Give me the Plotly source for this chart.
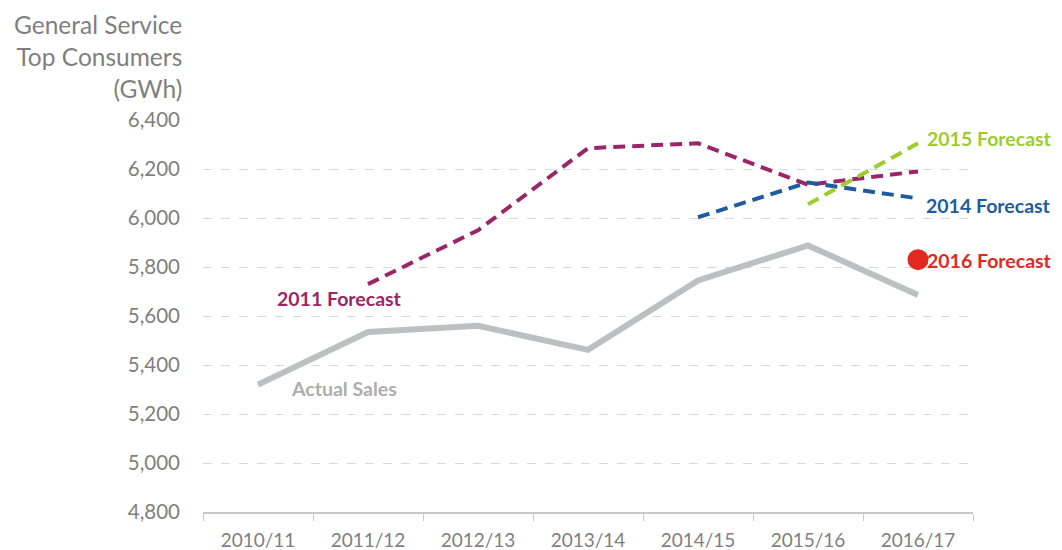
import plotly.graph_objects as go

years = ["2010/11", "2011/12", "2012/13", "2013/14", "2014/15", "2015/16", "2016/17"]
actual_sales = [5320, 5535, 5560, 5462, 5745, 5888, 5686]
forecast_2011 = [None, 5730, 5950, 6285, 6305, 6136, 6190]
forecast_2014 = [None, None, None, None, 6003, 6145, 6080]
forecast_2015 = [None, None, None, None, None, 6056, 6305]
forecast_2016 = [None, None, None, None, None, None, 5830]
y_ticks = [4800, 5000, 5200, 5400, 5600, 5800, 6000, 6200, 6400]

FONT = "Lato"
GREY_TXT = "#7f7f7f"
C_ACT = "#bcc0c0"
C_11 = "#9b2667"
C_14 = "#1f5c9f"
C_15 = "#9ccd2c"
C_16 = "#e2281f"

fig = go.Figure()
fig.add_trace(go.Scatter(x=years, y=actual_sales, mode="lines",
                         line=dict(color=C_ACT, width=6), hoverinfo="skip"))
fig.add_trace(go.Scatter(x=years, y=forecast_2011, mode="lines",
                         line=dict(color=C_11, width=4, dash="12px,7px")))
fig.add_trace(go.Scatter(x=years, y=forecast_2014, mode="lines",
                         line=dict(color=C_14, width=4, dash="12px,7px")))
fig.add_trace(go.Scatter(x=years, y=forecast_2015, mode="lines",
                         line=dict(color=C_15, width=4, dash="12px,7px")))
fig.add_trace(go.Scatter(x=years, y=forecast_2016, mode="markers",
                         marker=dict(color=C_16, size=21)))

ann_font = dict(family=FONT, size=19.5)
anns = [
    dict(x=years[6], y=forecast_2015[6], text="<b>2015 Forecast</b>", xanchor="left",
         yanchor="middle", xshift=7, yshift=5, font=dict(ann_font, color=C_15)),
    dict(x=years[6], y=forecast_2014[6], text="<b>2014 Forecast</b>", xanchor="left",
         yanchor="middle", xshift=6, yshift=-7, font=dict(ann_font, color=C_14)),
    dict(x=years[6], y=forecast_2016[6], text="<b>2016 Forecast</b>", xanchor="left",
         yanchor="middle", xshift=7, yshift=-1, font=dict(ann_font, color=C_16)),
    dict(x=years[1], y=forecast_2011[1], text="<b>2011 Forecast</b>", xanchor="right",
         yanchor="middle", xshift=36, yshift=-14, font=dict(ann_font, color=C_11)),
    dict(x=years[0], y=actual_sales[0], text="<b>Actual Sales</b>", xanchor="left",
         yanchor="middle", xshift=31, yshift=-4, font=dict(ann_font, color="#adadad")),
    dict(xref="paper", yref="paper", x=-0.0247, y=1.163,
         text="General Service<br>Top Consumers<br>(GWh)", align="right",
         xanchor="right", yanchor="middle",
         font=dict(family=FONT, size=24.5, color=GREY_TXT)),
]
for a in anns:
    a["showarrow"] = False
    fig.add_annotation(**a)

fig.update_layout(
    width=1054, height=542,
    margin=dict(l=195, r=89, t=112, b=38),
    paper_bgcolor="white", plot_bgcolor="white",
    showlegend=False,
    font=dict(family=FONT, color=GREY_TXT),
)
fig.update_xaxes(
    type="category", categoryorder="array", categoryarray=years,
    range=[-0.5, 6.5], automargin=False,
    showgrid=False, showline=True, linecolor="#c8c8c8", linewidth=1.5,
    ticks="outside", tickson="boundaries", ticklen=7, tickcolor="#c8c8c8",
    ticklabelstandoff=10,
    tickfont=dict(family=FONT, size=19, color=GREY_TXT),
)
fig.update_yaxes(
    range=[4800, 6400], tickvals=y_ticks, tickformat=",d", automargin=False,
    showgrid=True, gridcolor="#d9d9d9", gridwidth=1, griddash="dash",
    zeroline=False, showline=False, ticks="", ticklabelstandoff=22,
    tickfont=dict(family=FONT, size=20.5, color=GREY_TXT),
)
fig.write_html("out.html")
